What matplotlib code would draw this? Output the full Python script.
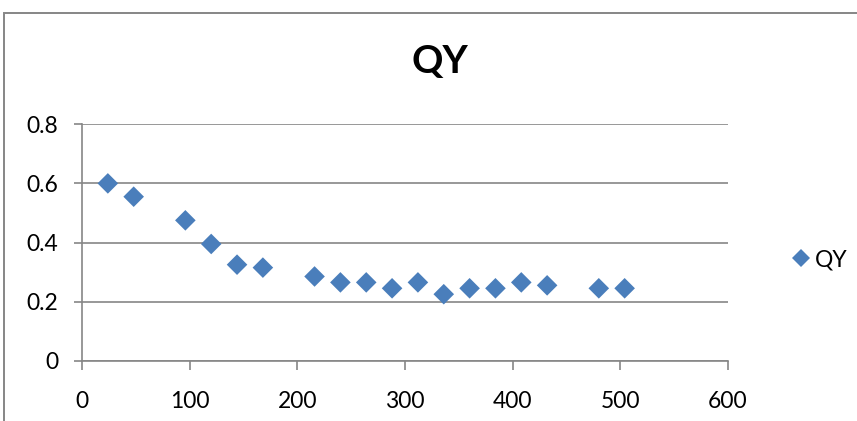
import matplotlib
matplotlib.use("Agg")
import matplotlib.pyplot as plt
from matplotlib.patches import Rectangle
from matplotlib.lines import Line2D

plt.rcParams['font.family'] = ['Lato', 'DejaVu Sans']

# QY measurements
hours = [24, 48, 96, 120, 144, 168, 216, 240, 264, 288, 312, 336, 360, 384, 408, 432, 480, 504]
qy = [0.60, 0.555, 0.475, 0.395, 0.325, 0.315, 0.285, 0.265, 0.265, 0.245,
      0.265, 0.225, 0.245, 0.245, 0.265, 0.255, 0.245, 0.245]
x_ticks = [0, 100, 200, 300, 400, 500, 600]
y_ticks = [0, 0.2, 0.4, 0.6, 0.8]
series_name = "QY"

blue = "#4A7EBB"
gray = "#868686"

fig = plt.figure(figsize=(8.57, 4.21), dpi=100)

# outer chart frame (extends past the right and bottom edges)
fig.patches.append(Rectangle((4 / 857, -0.1), 1.2, 1 - 12.5 / 421 + 0.1,
                             transform=fig.transFigure, fill=False,
                             edgecolor=gray, linewidth=1.4, zorder=0))

ax = fig.add_axes([82 / 857, 1 - 360.7 / 421, (728 - 82) / 857, (360.7 - 124.3) / 421])
ax.scatter(hours, qy, marker='D', s=110, color=blue, edgecolors='none', zorder=3)

ax.set_xlim(0, 600)
ax.set_ylim(0, 0.8)
ax.set_xticks(x_ticks)
ax.set_yticks(y_ticks)
ax.set_xticklabels([str(v) for v in x_ticks])
ax.set_yticklabels(["0"] + [f"{v:.1f}" for v in y_ticks[1:]])

ax.yaxis.grid(True, color=gray, linewidth=1.2)
ax.set_axisbelow(True)
for side in ['top', 'right']:
    ax.spines[side].set_visible(False)
for side in ['left', 'bottom']:
    ax.spines[side].set_color(gray)
    ax.spines[side].set_linewidth(1.2)

ax.tick_params(axis='x', direction='out', length=6.5, width=1.2, color=gray,
               labelsize=16.5, pad=15)
ax.tick_params(axis='y', direction='out', length=6, width=1.2, color=gray,
               labelsize=16.5, pad=11)

fig.text(440 / 857, 1 - 62 / 421, series_name, fontsize=28, fontweight='bold',
         ha='center', va='center')

handle = Line2D([], [], marker='D', linestyle='none', color=blue,
                markersize=9, markeredgewidth=0)
fig.legend([handle], [series_name], loc='center left',
           bbox_to_anchor=(776 / 857, 1 - 260 / 421), frameon=False,
           fontsize=16.5, handletextpad=0.0, handlelength=1.2, borderpad=0)

fig.savefig("out.png", dpi=100)
